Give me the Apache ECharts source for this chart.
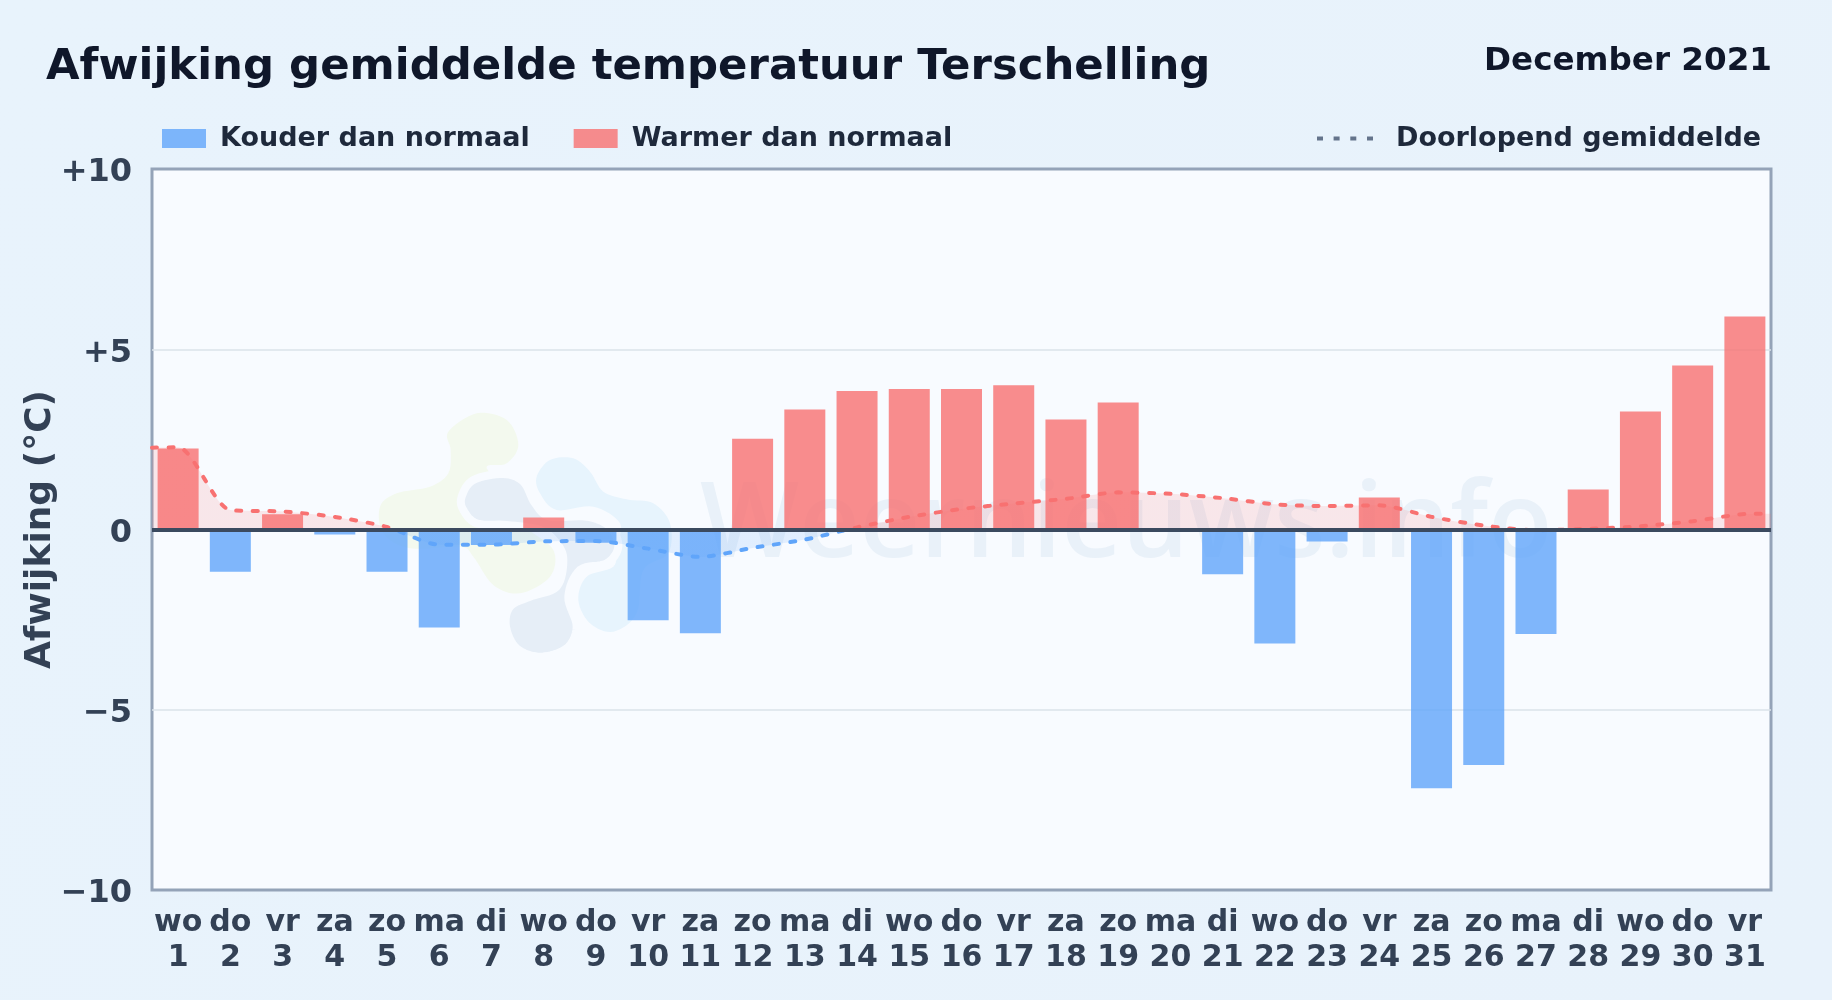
<!DOCTYPE html>
<html><head><meta charset="utf-8">
<style>html,body{margin:0;padding:0;background:#e8f3fc}#c{width:1832px;height:1000px}</style>
<script src="https://cdn.jsdelivr.net/npm/echarts@6/dist/echarts.min.js"></script>
</head><body><div id="c"></div>
<script>
const weekdays = ['wo','do','vr','za','zo','ma','di','wo','do','vr','za','zo','ma','di','wo','do','vr','za','zo','ma','di','wo','do','vr','za','zo','ma','di','wo','do','vr'];
const days = [1,2,3,4,5,6,7,8,9,10,11,12,13,14,15,16,17,18,19,20,21,22,23,24,25,26,27,28,29,30,31];
const afwijking = [2.25,-1.17,0.42,-0.14,-1.17,-2.72,-0.43,0.33,-0.37,-2.52,-2.88,2.52,3.33,3.84,3.9,3.9,4.0,3.05,3.52,0,-1.24,-3.16,-0.33,0.89,-7.18,-6.53,-2.9,1.11,3.27,4.55,5.91];
const gemiddelde = [2.28,0.54,0.5,0.35,0.07,-0.42,-0.42,-0.33,-0.32,-0.53,-0.76,-0.51,-0.28,0.06,0.35,0.57,0.72,0.85,1.03,0.99,0.87,0.7,0.65,0.67,0.35,0.11,-0.02,0.02,0.09,0.23,0.43];
const gemiddeldeRandLinks = 2.27, gemiddeldeRandRechts = 0.44;
const yTicks = {min:-10,max:10,interval:5};

const categories = weekdays.map((w,i)=>w+'\n'+days[i]);
const kouder = afwijking.map(v=>v<0?v:null);
const warmer = afwijking.map(v=>v>0?v:null);
const lijn = [[days[0]-0.5,gemiddeldeRandLinks]].concat(days.map((d,i)=>[d,gemiddelde[i]]),[[days[days.length-1]+0.5,gemiddeldeRandRechts]]);

const FONT='"DejaVu Sans"';
const GRID={left:152,right:61,top:169,height:721};
const tweekleur=()=>({type:'linear',global:true,x:0,y:GRID.top,x2:0,y2:GRID.top+GRID.height,
  colorStops:[{offset:0,color:'#f87171'},{offset:0.5,color:'#f87171'},{offset:0.5,color:'#60a5fa'},{offset:1,color:'#60a5fa'}]});
const ox=360, oy=400;
function blobPts(pts){
  const p=pts.map(q=>[ox+q[0]/3,oy+q[1]/3]), n=p.length, out=[];
  for(let i=0;i<n;i++){
    const a=p[(i-1+n)%n],b=p[i],c=p[(i+1)%n],e=p[(i+2)%n];
    for(let k=0;k<8;k++){
      const t=k/8,t2=t*t,t3=t2*t;
      out.push([0,1].map(j=>0.5*(2*b[j]+(c[j]-a[j])*t+(2*a[j]-5*b[j]+4*c[j]-e[j])*t2+(3*b[j]-a[j]-3*c[j]+e[j])*t3)));
    }
  }
  return out;
}
const blob=(pts,style)=>({type:'polygon',silent:true,shape:{points:blobPts(pts)},style});

const chart=echarts.init(document.getElementById('c'),null,{renderer:'canvas'});
chart.setOption({
  animation:false,
  backgroundColor:{type:'linear',x:0,y:0,x2:1,y2:1,colorStops:[{offset:0,color:'#e8f3fc'},{offset:1,color:'#e8f2fb'}]},
  textStyle:{fontFamily:FONT},
  title:[
    {text:'Afwijking gemiddelde temperatuur Terschelling',left:41,top:41,textStyle:{fontFamily:FONT,fontSize:43.4,fontWeight:'bold',color:'#0f172a'}},
    {text:'December 2021',right:55,top:40,textStyle:{fontFamily:FONT,fontSize:32.6,fontWeight:'bold',color:'#0f172a'}}
  ],
  legend:[
    {left:157,top:120,itemWidth:44,itemHeight:19,itemGap:44,icon:'rect',selectedMode:false,
     data:['Kouder dan normaal','Warmer dan normaal'],
     textStyle:{fontFamily:FONT,fontSize:27,fontWeight:'bold',color:'#1e293b',padding:[0,0,0,9]}},
    {left:1312,top:120,itemWidth:56,itemHeight:4,selectedMode:false,
     data:[{name:'Doorlopend gemiddelde',
       icon:'path://M0 0h6v4h-6zM16.6 0h6v4h-6zM33.3 0h6v4h-6zM50 0h6v4h-6z',
       itemStyle:{color:'#64748b',opacity:1,borderWidth:0}}],
     textStyle:{fontFamily:FONT,fontSize:27,fontWeight:'bold',color:'#1e293b',padding:[0,0,0,18]}}
  ],
  grid:Object.assign({show:true,backgroundColor:'#f8fbff',borderColor:'#94a3b8',borderWidth:3,containLabel:false},GRID),
  xAxis:[
    {type:'category',data:categories,position:'bottom',
     axisLine:{show:false,onZero:false},axisTick:{show:false},splitLine:{show:false},
     axisLabel:{interval:0,margin:15.5,lineHeight:35,fontFamily:FONT,fontSize:30,fontWeight:'bold',color:'#334155'}},
    {type:'value',min:0.5,max:31.5,show:false}
  ],
  yAxis:{type:'value',min:yTicks.min,max:yTicks.max,interval:yTicks.interval,
    name:'Afwijking (°C)',nameLocation:'middle',nameRotate:90,nameGap:93,nameMoveOverlap:false,
    nameTextStyle:{fontFamily:FONT,fontSize:36,fontWeight:'bold',color:'#334155'},
    axisLine:{show:false},axisTick:{show:false},
    splitLine:{showMinLine:false,showMaxLine:false,lineStyle:{color:'#dbe3ea',width:1.5}},
    axisLabel:{margin:20,verticalAlign:'top',lineHeight:8,fontFamily:FONT,fontSize:32,fontWeight:'bold',color:'#334155',
      formatter:v=>v>0?'+'+v:(v<0?'\u2212'+Math.abs(v):'0')}},
  series:[
    {name:'Kouder dan normaal',type:'bar',stack:'a',barWidth:41,data:kouder,z:2,itemStyle:{color:'rgba(96,165,250,0.8)'}},
    {name:'Warmer dan normaal',type:'bar',stack:'a',barWidth:41,data:warmer,z:2,itemStyle:{color:'rgba(248,113,113,0.8)'},
     markLine:{silent:true,symbol:'none',label:{show:false},animation:false,
       data:[{yAxis:0}],lineStyle:{type:'solid',color:'#3b4a5f',width:4}}},
    {name:'Doorlopend gemiddelde',type:'line',xAxisIndex:1,data:lijn,smooth:0.25,symbol:'none',z:4,
     lineStyle:{width:4,type:[5,11.5],cap:'round',color:tweekleur()},
     itemStyle:{color:'#64748b'},
     areaStyle:{opacity:0.15,color:tweekleur()}}
  ],
  graphic:{z:1,zlevel:0,elements:[
    {type:'text',silent:true,left:700,top:475,style:{text:'Weernieuws.info',fontFamily:'"Open Sans"',fontSize:105,fontWeight:600,fill:'#e9f1f9'}},
    blob([[265,95],[350,40],[440,60],[475,135],[440,190],[380,205],[480,300],[500,380],[580,450],[570,530],[480,580],[400,555],[340,470],[300,440],[150,445],[70,400],[60,320],[110,280],[210,260],[265,220],[272,150]],{fill:'#f3f9ee'}),
    blob([[530,230],[570,180],[640,175],[690,215],[730,275],[800,298],[880,310],[930,370],[925,460],[850,510],[830,640],[760,695],[690,670],[655,600],[680,530],[760,500],[770,440],[780,370],[700,320],[590,330],[540,280]],{fill:'#e7f4fd'}),
    blob([[305,290],[340,240],[430,222],[490,245],[525,310],[570,350],[680,350],[750,380],[775,440],[740,490],[660,510],[625,590],[650,680],[620,745],[540,770],[470,745],[438,680],[450,620],[510,590],[590,560],[610,480],[590,430],[540,390],[440,375],[350,370],[310,330]],{fill:'#e6eef7',stroke:'#f8fbff',lineWidth:8})
  ]}
});
</script></body></html>
